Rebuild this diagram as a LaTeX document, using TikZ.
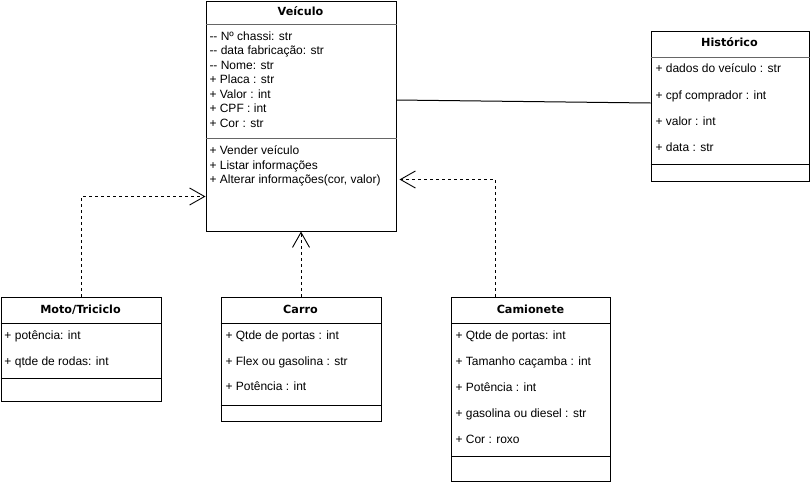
\documentclass[tikz,border=0pt]{standalone}
\usepackage{fontspec}
\setmainfont{Liberation Sans}[Ligatures=NoCommon]
\newfontfamily\ttlfont{DejaVu Sans}
\usetikzlibrary{arrows.meta}
\begin{document}
\begin{tikzpicture}[x=1pt,y=-1pt,line width=1pt,
  classbox/.style={draw,anchor=north west,inner sep=0pt,fill=white},
  row/.style={anchor=west,inner sep=0pt,text height=8.8pt,text depth=2.4pt,font=\fontsize{12}{14}\selectfont},
  ttl/.style={inner sep=0pt,text height=8.4pt,text depth=2.4pt,font=\ttlfont\fontsize{11.2}{13}\selectfont\bfseries},
  sep/.style={line width=0.8pt,draw=black!60},
  dep/.style={dash pattern=on 3pt off 3pt,-{Straight Barb[length=15pt,width=17pt,line width=0.9pt]}},
  assoc/.style={line width=1pt}]
\useasboundingbox (0,0) rectangle (810,482);
% Veiculo
\node[classbox,minimum width=190pt,minimum height=230pt] (veic) at (205.5,0.5) {};
\node[ttl] (veicT) at (300.5,12) {Veículo};
\draw[sep] (veic.west |- 0,24) -- (veic.east |- 0,24);
\node[row] (v1) at (209,37) {-{}- Nº chassi: str};
\node[row] (v2) at (209,51.5) {-{}- data fabricação: str};
\node[row] (v3) at (209,66) {-{}- Nome: str};
\node[row] (v4) at (209,80.5) {+ Placa : str};
\node[row] (v5) at (209,95) {+ Valor : int};
\node[row] (v6) at (209,109.5) {+ CPF : int};
\node[row] (v7) at (209,124) {+ Cor : str};
\draw[sep] (veic.west |- 0,138) -- (veic.east |- 0,138);
\node[row] (v8) at (209,151.5) {+ Vender veículo};
\node[row] (v9) at (209,166) {+ Listar informações};
\node[row] (v10) at (209,180.5) {+ Alterar informações(cor, valor)};
% Historico
\node[classbox,minimum width=158pt,minimum height=150pt] (hist) at (650.5,30.5) {};
\node[ttl] (histT) at (729.5,43.5) {Histórico};
\draw[sep] (hist.west |- 0,57) -- (hist.east |- 0,57);
\node[row] (h1) at (655,69.5) {+ dados do veículo : str};
\node[row] (h2) at (655,96) {+ cpf comprador : int};
\node[row] (h3) at (655,122) {+ valor : int};
\node[row] (h4) at (655,148) {+ data : str};
\draw[line width=1pt] (hist.west |- 0,164) -- (hist.east |- 0,164);
% Moto
\node[classbox,minimum width=160pt,minimum height=104pt] (moto) at (0.5,296.5) {};
\node[ttl] (motoT) at (80.5,310) {Moto/Triciclo};
\draw[line width=1pt] (moto.west |- 0,323) -- (moto.east |- 0,323);
\node[row] (m1) at (4,336) {+ potência: int};
\node[row] (m2) at (4,362) {+ qtde de rodas: int};
\draw[line width=1pt] (moto.west |- 0,378) -- (moto.east |- 0,378);
% Carro
\node[classbox,minimum width=160pt,minimum height=124pt] (carro) at (220.5,296.5) {};
\node[ttl] (carroT) at (300.5,310) {Carro};
\draw[line width=1pt] (carro.west |- 0,323) -- (carro.east |- 0,323);
\node[row] (c1) at (225,336) {+ Qtde de portas : int};
\node[row] (c2) at (225,362) {+ Flex ou gasolina : str};
\node[row] (c3) at (225,387.5) {+ Potência : int};
\draw[line width=1pt] (carro.west |- 0,405) -- (carro.east |- 0,405);
% Camionete
\node[classbox,minimum width=159pt,minimum height=184pt] (cam) at (451,296.5) {};
\node[ttl] (camT) at (530.5,310) {Camionete};
\draw[line width=1pt] (cam.west |- 0,323) -- (cam.east |- 0,323);
\node[row] (k1) at (455,336) {+ Qtde de portas: int};
\node[row] (k2) at (455,362) {+ Tamanho caçamba : int};
\node[row] (k3) at (455,388) {+ Potência : int};
\node[row] (k4) at (455,414) {+ gasolina ou diesel : str};
\node[row] (k5) at (455,440) {+ Cor : roxo};
\draw[line width=1pt] (cam.west |- 0,456) -- (cam.east |- 0,456);
% connectors
\draw[assoc] (veic.east |- 0,100) -- (hist.west |- 0,103);
\draw[dep] (moto.north) |- (veic.west |- 0,196.5);
\draw[dep] (carro.north) -- (carro.north |- veic.south);
\coordinate (camtop) at ([xshift=44.5pt]cam.north west);
\draw[dep] (camtop) |- ([xshift=3pt]veic.east |- 0,179.5);
\end{tikzpicture}
\end{document}
